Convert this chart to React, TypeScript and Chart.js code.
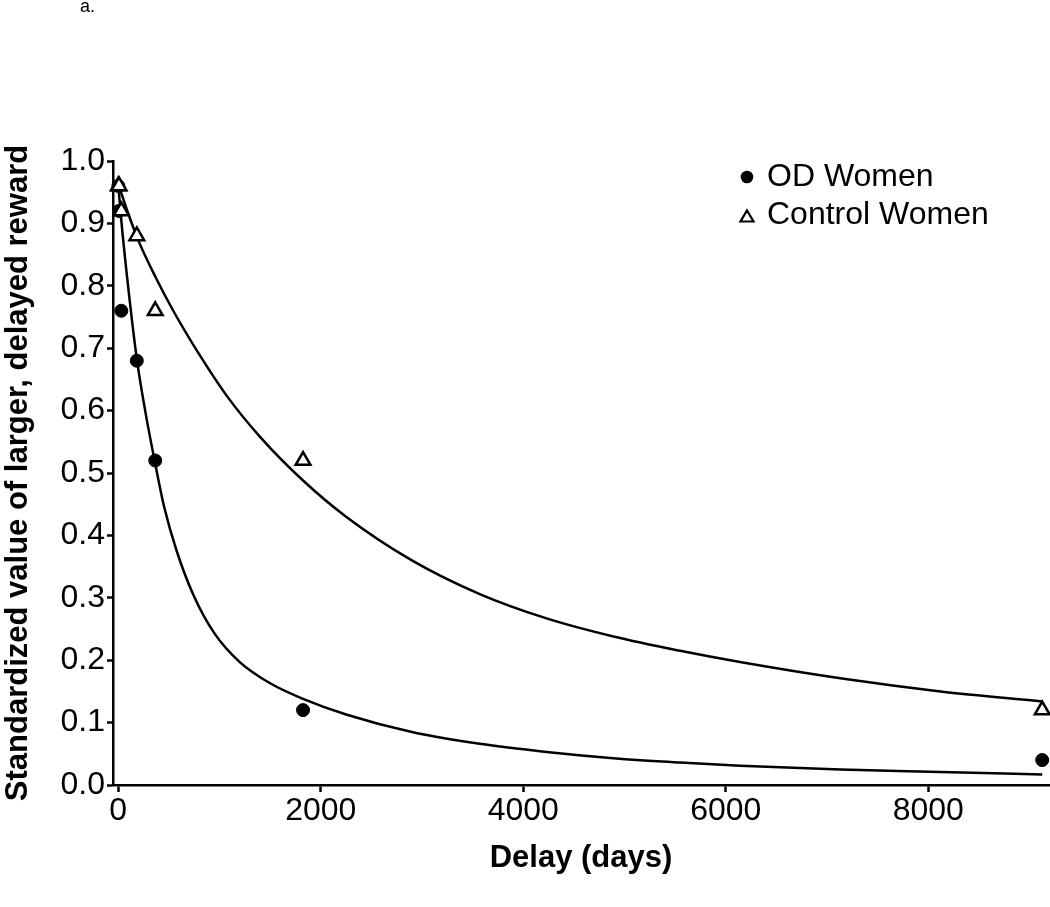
import React, { useEffect, useRef } from "react";
import { Chart, registerables } from "chart.js";

Chart.register(...registerables);

const FONT = '"Liberation Sans", Arial, Helvetica, sans-serif';

// Delays in days (1 day, 1 week, 1 month, 6 months, 1 year, 5 years, 25 years)
const delays = [1, 7, 30, 183, 365, 1825, 9125];
const odWomen = [0.96, 0.92, 0.76, 0.68, 0.52, 0.12, 0.04];
const controlWomen = [0.96, 0.96, 0.92, 0.88, 0.76, 0.52, 0.12];

// Fitted curves
const controlFitDays = [0, 100, 200, 365, 550, 800, 1070, 1400, 1825, 2250, 2900, 3570, 4230, 4890, 5550, 6140, 7130, 8120, 9125];
const controlFitValues = [0.963, 0.915, 0.872, 0.815, 0.758, 0.69, 0.624, 0.558, 0.488, 0.43, 0.36, 0.306, 0.267, 0.238, 0.215, 0.197, 0.171, 0.15, 0.134];

const odFitDays = [0, 30, 100, 183, 270, 365, 450, 577, 741, 950, 1200, 1500, 1825, 2250, 2900, 3570, 4230, 4890, 5550, 6140, 7130, 8120, 9125];
const odFitValues = [0.962, 0.905, 0.795, 0.683, 0.596, 0.515, 0.448, 0.375, 0.305, 0.243, 0.197, 0.163, 0.138, 0.113, 0.085, 0.066, 0.053, 0.043, 0.036, 0.031, 0.025, 0.021, 0.017];

const xTickValues = [0, 2000, 4000, 6000, 8000];
const yTickValues = [0, 0.1, 0.2, 0.3, 0.4, 0.5, 0.6, 0.7, 0.8, 0.9, 1.0];

const seriesLabels = ["OD Women", "Control Women"];
const panelLabel = "a.";
const xTitle = "Delay (days)";
const yTitle = "Standardized value of larger, delayed reward";

const overlayPlugin = {
  id: "overlayLegend",
  afterDraw(chart: any) {
    const ctx = chart.ctx as CanvasRenderingContext2D;
    ctx.save();
    ctx.fillStyle = "#000";
    ctx.textAlign = "left";
    ctx.textBaseline = "alphabetic";
    ctx.font = `18px ${FONT}`;
    ctx.fillText(panelLabel, 80, 12);

    // legend
    ctx.font = `32px ${FONT}`;
    ctx.textBaseline = "middle";
    // OD Women: filled circle
    ctx.beginPath();
    ctx.arc(747, 177, 6.3, 0, Math.PI * 2);
    ctx.fillStyle = "#000";
    ctx.fill();
    ctx.fillText(seriesLabels[0], 767, 177);
    // Control Women: open triangle
    ctx.beginPath();
    ctx.moveTo(747, 210.5);
    ctx.lineTo(753.5, 221.5);
    ctx.lineTo(740.5, 221.5);
    ctx.closePath();
    ctx.fillStyle = "#fff";
    ctx.fill();
    ctx.lineWidth = 2.2;
    ctx.strokeStyle = "#000";
    ctx.stroke();
    ctx.fillStyle = "#000";
    ctx.fillText(seriesLabels[1], 767, 215);
    ctx.restore();
  },
};

export default function App() {
  const ref = useRef<HTMLCanvasElement>(null);

  useEffect(() => {
    const canvas = ref.current!;
    Chart.defaults.font.family = FONT;
    const chart = new Chart(canvas, {
      type: "scatter",
      data: {
        datasets: [
          {
            label: seriesLabels[1],
            data: delays.map((d, i) => ({ x: d, y: controlWomen[i] })),
            pointStyle: "triangle",
            pointRadius: 8.5,
            backgroundColor: "#fff",
            borderColor: "#000",
            borderWidth: 2.5,
            showLine: false,
            clip: false,
            order: 0,
          },
          {
            label: seriesLabels[0],
            data: delays.map((d, i) => ({ x: d, y: odWomen[i] })),
            pointStyle: "circle",
            pointRadius: 6.5,
            backgroundColor: "#000",
            borderColor: "#000",
            borderWidth: 1,
            showLine: false,
            clip: false,
            order: 1,
          },
          {
            label: "Control fit",
            data: controlFitDays.map((d, i) => ({ x: d, y: controlFitValues[i] })),
            showLine: true,
            pointRadius: 0,
            borderColor: "#000",
            borderWidth: 2.5,
            cubicInterpolationMode: "monotone",
            fill: false,
            clip: false,
            order: 2,
          },
          {
            label: "OD fit",
            data: odFitDays.map((d, i) => ({ x: d, y: odFitValues[i] })),
            showLine: true,
            pointRadius: 0,
            borderColor: "#000",
            borderWidth: 2.5,
            cubicInterpolationMode: "monotone",
            fill: false,
            clip: false,
            order: 3,
          },
        ],
      },
      options: {
        responsive: false,
        animation: false,
        events: [],
        layout: { autoPadding: false, padding: { top: 161, right: 1, left: 0, bottom: 0 } },
        plugins: {
          legend: { display: false },
          tooltip: { enabled: false },
        },
        scales: {
          x: {
            type: "linear",
            position: "bottom",
            min: -52,
            max: 9192,
            afterBuildTicks: (s: any) => {
              s.ticks = xTickValues.map((v) => ({ value: v }));
            },
            afterFit: (s: any) => {
              s.height = 122;
              s.paddingLeft = 0;
              s.paddingRight = 0;
            },
            grid: {
              drawOnChartArea: false,
              drawTicks: true,
              tickLength: 7,
              tickWidth: 2.5,
              tickColor: "#000",
              color: "#000",
            },
            border: { display: true, color: "#000", width: 2.5 },
            ticks: {
              color: "#000",
              font: { family: FONT, size: 32 },
              padding: 0,
              maxRotation: 0,
              autoSkip: false,
              callback: (v: any) => String(v),
            },
            title: {
              display: true,
              text: xTitle,
              color: "#000",
              font: { family: FONT, size: 31, weight: "bold" },
              padding: { top: 0, bottom: 30 },
            },
          },
          y: {
            type: "linear",
            position: "left",
            min: 0,
            max: 1,
            afterBuildTicks: (s: any) => {
              s.ticks = yTickValues.map((v) => ({ value: v }));
            },
            afterFit: (s: any) => {
              s.width = 113;
              s.paddingTop = 0;
              s.paddingBottom = 0;
            },
            grid: {
              drawOnChartArea: false,
              drawTicks: true,
              tickLength: 6,
              tickWidth: 2.5,
              tickColor: "#000",
              color: "#000",
            },
            border: { display: true, color: "#000", width: 2.5 },
            ticks: {
              color: "#000",
              font: { family: FONT, size: 32 },
              padding: 2,
              autoSkip: false,
              callback: (v: any) => Number(v).toFixed(1),
            },
            title: {
              display: true,
              text: yTitle,
              color: "#000",
              font: { family: FONT, size: 31, weight: "bold" },
              padding: { top: 0, bottom: 0 },
            },
          },
        },
      },
      plugins: [overlayPlugin],
    } as any);
    return () => chart.destroy();
  }, []);

  return (
    <div
      style={{
        position: "fixed",
        left: 0,
        top: 0,
        width: 1050,
        height: 907,
        background: "#fff",
      }}
    >
      <canvas
        ref={ref}
        width={1050}
        height={907}
        style={{ width: 1050, height: 907, display: "block" }}
      />
    </div>
  );
}
